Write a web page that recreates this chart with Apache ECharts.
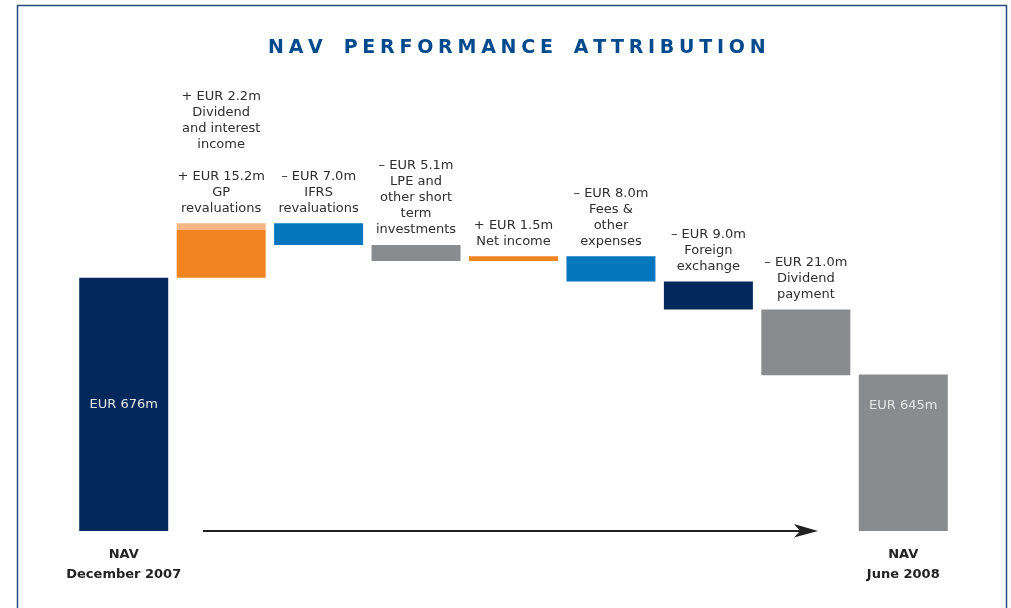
<!DOCTYPE html>
<html>
<head>
<meta charset="utf-8">
<script src="https://cdn.jsdelivr.net/npm/echarts@6/dist/echarts.min.js"></script>
<style>
  html, body { margin: 0; padding: 0; background: #ffffff; }
  #chart { width: 1011px; height: 608px; }
</style>
</head>
<body>
<div id="chart"></div>
<script>
// ---- Data ----
const categories = [
  'NAV\nDecember 2007',
  'GP revaluations',
  'IFRS revaluations',
  'LPE and other short term investments',
  'Net income',
  'Fees & other expenses',
  'Foreign exchange',
  'Dividend payment',
  'NAV\nJune 2008'
];
const navStart = 676;   // EUR m, NAV December 2007
const navEnd = 645;     // EUR m, NAV June 2008
// main change per step column (EUR m)
const stepChanges = [null, 15.2, -7.0, -5.1, 1.5, -8.0, -9.0, -21.0, null];
// dividend and interest income, stacked on the GP column (EUR m)
const incomeChanges = [null, 2.2, null, null, null, null, null, null, null];
const stepNames = [
  null,
  'GP\nrevaluations',
  'IFRS\nrevaluations',
  'LPE and\nother short\nterm\ninvestments',
  'Net income',
  'Fees &\nother\nexpenses',
  'Foreign\nexchange',
  'Dividend\npayment',
  null
];
const incomeName = 'Dividend\nand interest\nincome';
const titleText = 'NAV PERFORMANCE ATTRIBUTION';

// ---- Styling ----
const NAVY = '#03295c';
const ORANGE = '#f28521';
const LIGHT_ORANGE = '#f8b682';
const BLUE = '#0477bf';
const GRAY = '#8a8b8f';
const stepColors = [NAVY, ORANGE, BLUE, GRAY, ORANGE, BLUE, NAVY, GRAY, GRAY];
const Y_MIN = 595, Y_MAX = 720;

function fmtChange(v) {
  return (v >= 0 ? '+ ' : '\u2013 ') + 'EUR ' + Math.abs(v).toFixed(1) + 'm';
}
// letter-spaced title text
const SP = '\u2005';
const spacedTitle = titleText.split(' ')
  .map(w => w.split('').join(SP))
  .join(SP + ' ' + SP + SP);

const labelBase = {
  show: true,
  position: 'top',
  distance: 7,
  color: '#2e2e2e',
  fontFamily: 'DejaVu Sans',
  fontSize: 13,
  lineHeight: 16,
  align: 'center'
};

// build waterfall
const baseData = [], mainData = [], extraData = [];
let level = navStart;
categories.forEach((c, i) => {
  if (i === 0 || i === categories.length - 1) {
    const nav = i === 0 ? navStart : navEnd;
    baseData.push(Y_MIN);
    mainData.push({
      value: nav - Y_MIN,
      itemStyle: { color: stepColors[i] },
      label: {
        show: true,
        position: i === 0 ? 'inside' : 'insideTop',
        distance: 25,
        formatter: 'EUR ' + nav + 'm',
        color: '#e6e6e6',
        fontFamily: 'DejaVu Sans',
        fontSize: 13
      }
    });
    extraData.push('-');
    return;
  }
  const ch = stepChanges[i];
  const inc = incomeChanges[i];
  const base = ch >= 0 ? level : level + ch;
  baseData.push(base);
  const item = { value: Math.abs(ch), itemStyle: { color: stepColors[i] } };
  if (inc != null) {
    item.label = { show: false };
    extraData.push({
      value: inc,
      itemStyle: { color: LIGHT_ORANGE },
      label: Object.assign({}, labelBase, {
        formatter: fmtChange(inc) + '\n' + incomeName + '\n\n' + fmtChange(ch) + '\n' + stepNames[i]
      })
    });
  } else {
    item.label = Object.assign({}, labelBase, {
      formatter: fmtChange(ch) + '\n' + stepNames[i]
    });
    extraData.push('-');
  }
  mainData.push(item);
  level += ch + (inc || 0);
});

const chart = echarts.init(document.getElementById('chart'), null, { renderer: 'canvas' });
chart.setOption({
  animation: false,
  title: {
    text: spacedTitle,
    left: 263,
    top: 34,
    textStyle: {
      color: '#004a8d',
      fontFamily: 'DejaVu Sans',
      fontWeight: 'bold',
      fontSize: 19
    }
  },
  grid: { left: 75, right: 59, top: 140, bottom: 77, containLabel: false },
  xAxis: {
    type: 'category',
    data: categories,
    axisLine: { show: false },
    axisTick: { show: false },
    axisLabel: {
      interval: 0,
      margin: 14,
      color: '#222222',
      fontFamily: 'DejaVu Sans',
      fontWeight: 'bold',
      fontSize: 13,
      lineHeight: 20,
      formatter: (v, i) => (i === 0 || i === categories.length - 1) ? v : ''
    }
  },
  yAxis: {
    type: 'value',
    min: Y_MIN,
    max: Y_MAX,
    show: false,
    splitLine: { show: false }
  },
  series: [
    {
      name: 'base', type: 'bar', stack: 'w', barWidth: 89,
      itemStyle: { color: 'transparent' },
      emphasis: { disabled: true },
      silent: true,
      data: baseData
    },
    {
      name: 'change', type: 'bar', stack: 'w', barWidth: 89,
      emphasis: { disabled: true },
      data: mainData
    },
    {
      name: 'income', type: 'bar', stack: 'w', barWidth: 89,
      emphasis: { disabled: true },
      data: extraData
    }
  ],
  graphic: [
    {
      type: 'rect',
      shape: { x: 17.5, y: 5.5, width: 989, height: 700 },
      style: { fill: 'none', stroke: '#2a4878', lineWidth: 1.5 },
      silent: true
    },
    {
      type: 'line',
      shape: { x1: 203, y1: 531, x2: 806, y2: 531 },
      style: { stroke: '#222222', lineWidth: 2 },
      silent: true
    },
    {
      type: 'polygon',
      shape: { points: [[794, 524], [818, 531], [794, 537.5], [800, 531]] },
      style: { fill: '#222222' },
      silent: true
    }
  ]
});
</script>
</body>
</html>
